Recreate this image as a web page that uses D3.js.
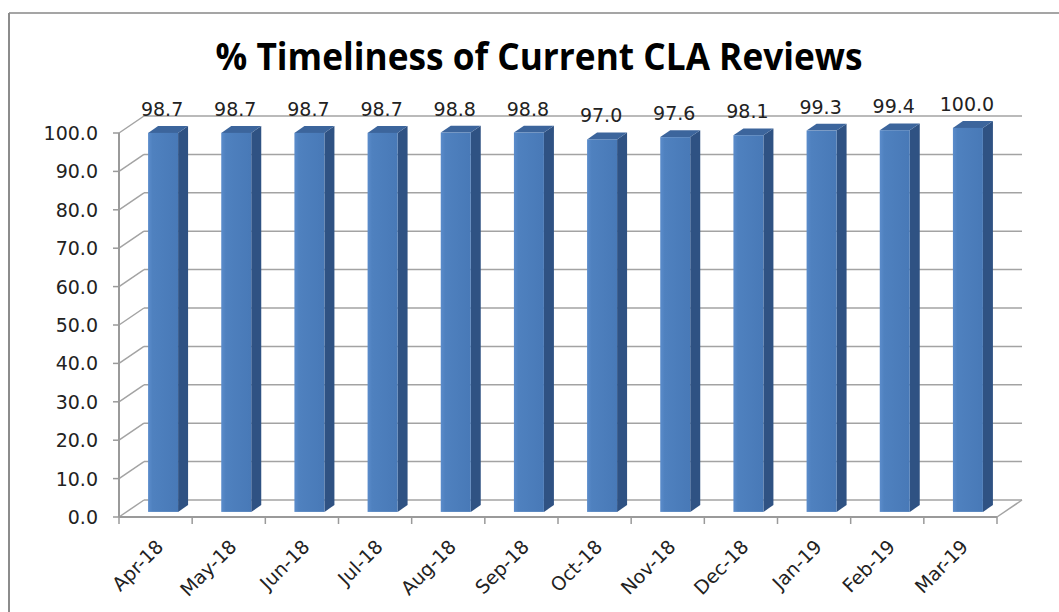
<!DOCTYPE html>
<html>
<head>
<meta charset="utf-8">
<script src="https://cdn.jsdelivr.net/npm/d3@7"></script>
<style>
  body { margin: 0; background: #fff; }
  text { font-family: "DejaVu Sans", Verdana, sans-serif; fill: #222; }
</style>
</head>
<body>
<div id="chart-area"></div>
<script>
// chart data
const months = ["Apr-18", "May-18", "Jun-18", "Jul-18", "Aug-18", "Sep-18",
                "Oct-18", "Nov-18", "Dec-18", "Jan-19", "Feb-19", "Mar-19"];
const timeliness = [98.7, 98.7, 98.7, 98.7, 98.8, 98.8, 97.0, 97.6, 98.1, 99.3, 99.4, 100.0];
const yTicks = [0, 10, 20, 30, 40, 50, 60, 70, 80, 90, 100];

const W = 1059, H = 612;
// plot front plane
const plot = { left: 119, right: 997, bottom: 517, top: 133 };
// depth of the 3d box
const depth = { dx: 25, dy: -17 };
// bars sit between 30% and 70% of depth
const f0 = 0.3, f1 = 0.7;

const svg = d3.select("#chart-area")
  .append("svg")
    .attr("width", W)
    .attr("height", H);

// chart border (top + left visible)
svg.append("line").attr("x1", 9).attr("y1", 13).attr("x2", W).attr("y2", 13)
  .attr("stroke", "#a5a5a5").attr("stroke-width", 2);
svg.append("line").attr("x1", 9).attr("y1", 13).attr("x2", 9).attr("y2", H)
  .attr("stroke", "#8c8c8c").attr("stroke-width", 2);

// title
const title = svg.append("text")
  .attr("x", 539).attr("y", 70)
  .attr("text-anchor", "middle")
  .style("font-family", "'Open Sans', 'Liberation Sans', sans-serif")
  .style("font-weight", "bold")
  .style("font-size", "37px")
  .style("fill", "#000")
  .text("% Timeliness of Current CLA Reviews");
title.attr("textLength", 647).attr("lengthAdjust", "spacingAndGlyphs");

const xScale = d3.scaleBand()
  .domain(months)
  .range([plot.left, plot.right])
  .paddingInner(0.59)
  .paddingOuter(0.295);

const yScale = d3.scaleLinear()
  .domain([0, 100])
  .range([plot.bottom, plot.top]);

const grid = svg.append("g");
const gridColor = "#a3a3a3";

// back wall gridlines + left wall diagonals
yTicks.forEach((v) => {
  const y = yScale(v);
  grid.append("line")
    .attr("x1", plot.left + depth.dx).attr("y1", y + depth.dy)
    .attr("x2", plot.right + depth.dx).attr("y2", y + depth.dy)
    .attr("stroke", gridColor).attr("stroke-width", 1.5);
  grid.append("line")
    .attr("x1", plot.left).attr("y1", y)
    .attr("x2", plot.left + depth.dx).attr("y2", y + depth.dy)
    .attr("stroke", gridColor).attr("stroke-width", 1.5);
});
// floor right edge
grid.append("line")
  .attr("x1", plot.right).attr("y1", yScale(0))
  .attr("x2", plot.right + depth.dx).attr("y2", yScale(0) + depth.dy)
  .attr("stroke", gridColor).attr("stroke-width", 1.5);

// front axes
const axisColor = "#9a9a9a";
svg.append("line")
  .attr("x1", plot.left).attr("y1", yScale(0)).attr("x2", plot.left).attr("y2", yScale(100))
  .attr("stroke", axisColor).attr("stroke-width", 2);
svg.append("line")
  .attr("x1", plot.left).attr("y1", yScale(0)).attr("x2", plot.right).attr("y2", yScale(0))
  .attr("stroke", axisColor).attr("stroke-width", 2);

// y ticks + labels
yTicks.forEach((v) => {
  svg.append("line")
    .attr("x1", plot.left - 6).attr("y1", yScale(v)).attr("x2", plot.left).attr("y2", yScale(v))
    .attr("stroke", axisColor).attr("stroke-width", 1.5);
  svg.append("text")
    .attr("x", 98).attr("y", yScale(v) + 7)
    .attr("text-anchor", "end")
    .style("font-size", "19px")
    .text(v.toFixed(1));
});

// x ticks at category boundaries
const step = xScale.step();
d3.range(months.length + 1).forEach((i) => {
  const x = plot.left + i * step;
  svg.append("line")
    .attr("x1", x).attr("y1", yScale(0)).attr("x2", x).attr("y2", yScale(0) + 7)
    .attr("stroke", axisColor).attr("stroke-width", 1.5);
});

// x labels rotated
months.forEach((m) => {
  const cx = xScale(m) + xScale.bandwidth() / 2;
  svg.append("text")
    .attr("transform", "translate(" + (cx + 9) + "," + (yScale(0) + 31) + ") rotate(-45)")
    .attr("text-anchor", "end")
    .style("font-size", "19px")
    .text(m);
});

// bars
const defs = svg.append("defs");
const grad = defs.append("linearGradient").attr("id", "front")
  .attr("x1", "0").attr("x2", "1").attr("y1", "0").attr("y2", "0");
grad.append("stop").attr("offset", "0").attr("stop-color", "#5b8ccb");
grad.append("stop").attr("offset", "0.15").attr("stop-color", "#4f81bf");
grad.append("stop").attr("offset", "1").attr("stop-color", "#4879b7");

const bw = xScale.bandwidth();
const bars = svg.append("g");
const data = months.map((m, i) => ({ month: m, value: timeliness[i] }));

data.forEach((d) => {
  const x0 = xScale(d.month) + f0 * depth.dx;
  const yb = yScale(0) + f0 * depth.dy;
  const yt = yScale(d.value) + f0 * depth.dy;
  const ox = (f1 - f0) * depth.dx, oy = (f1 - f0) * depth.dy;
  const g = bars.append("g");
  // side
  g.append("path")
    .attr("d", "M" + (x0 + bw) + "," + yb + "L" + (x0 + bw + ox) + "," + (yb + oy) +
      "L" + (x0 + bw + ox) + "," + (yt + oy) + "L" + (x0 + bw) + "," + yt + "Z")
    .attr("fill", "#2f5283");
  // top
  g.append("path")
    .attr("d", "M" + x0 + "," + yt + "L" + (x0 + ox) + "," + (yt + oy) +
      "L" + (x0 + bw + ox) + "," + (yt + oy) + "L" + (x0 + bw) + "," + yt + "Z")
    .attr("fill", "#3c659c");
  // front
  g.append("rect")
    .attr("x", x0).attr("y", yt)
    .attr("width", bw).attr("height", yb - yt)
    .attr("fill", "url(#front)");
  // data label
  svg.append("text")
    .attr("x", x0 + bw / 2 - 1)
    .attr("y", yt - 17)
    .attr("text-anchor", "middle")
    .style("font-size", "19px")
    .text(d.value.toFixed(1));
});
</script>
</body>
</html>
